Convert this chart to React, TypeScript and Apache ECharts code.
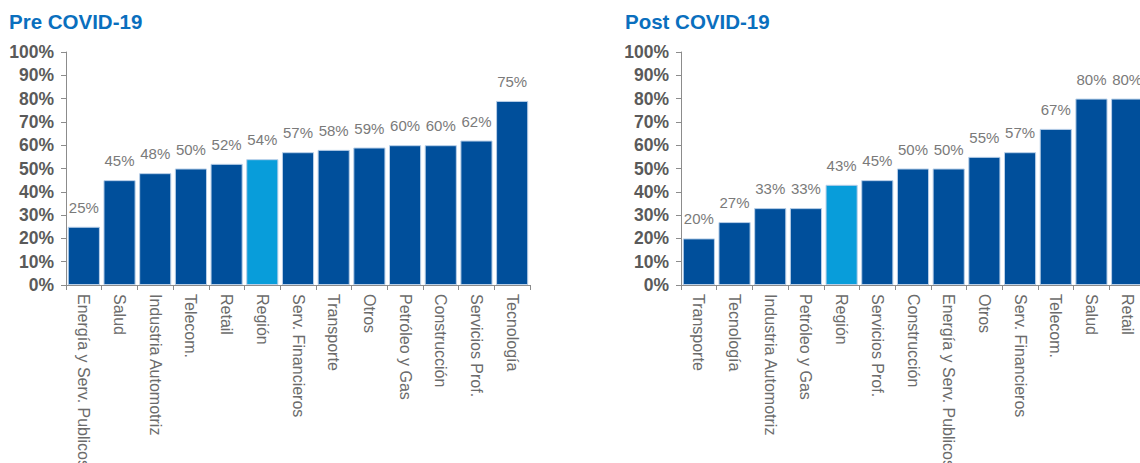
import React, { useEffect, useRef } from "react";
import * as echarts from "echarts";

const preCategories = [
  "Energía y Serv. Publicos",
  "Salud",
  "Industria Automotriz",
  "Telecom.",
  "Retail",
  "Región",
  "Serv. Financieros",
  "Transporte",
  "Otros",
  "Petróleo y Gas",
  "Construcción",
  "Servicios Prof.",
  "Tecnología",
];
const preValues = [25, 45, 48, 50, 52, 54, 57, 58, 59, 60, 60, 62, 79];
const preLabels = ["25%", "45%", "48%", "50%", "52%", "54%", "57%", "58%", "59%", "60%", "60%", "62%", "75%"];

const postCategories = [
  "Transporte",
  "Tecnología",
  "Industria Automotriz",
  "Petróleo y Gas",
  "Región",
  "Servicios Prof.",
  "Construcción",
  "Energía y Serv. Publicos",
  "Otros",
  "Serv. Financieros",
  "Telecom.",
  "Salud",
  "Retail",
];
const postValues = [20, 27, 33, 33, 43, 45, 50, 50, 55, 57, 67, 80, 80];
const postLabels = ["20%", "27%", "33%", "33%", "43%", "45%", "50%", "50%", "55%", "57%", "67%", "80%", "80%"];

const yTicks = [0, 10, 20, 30, 40, 50, 60, 70, 80, 90, 100];
const highlight = "Región";

const DARK = "#004f9b";
const LIGHT = "#089dda";
const FONT = "'Liberation Sans', Arial, Helvetica, sans-serif";

function makeSeries(cats: string[], vals: number[], labels: string[], idx: number) {
  return {
    type: "bar",
    xAxisIndex: idx,
    yAxisIndex: idx,
    barCategoryGap: "10%",
    data: vals.map((v, i) => ({
      value: v,
      itemStyle: { color: cats[i] === highlight ? LIGHT : DARK },
      label: { formatter: labels[i] },
    })),
    itemStyle: { borderColor: "#b8cfe8", borderWidth: 1 },
    label: {
      show: true,
      position: "top",
      distance: 12,
      color: "#7a7a7a",
      fontSize: 15,
      fontFamily: FONT,
    },
  };
}

function makeX(cats: string[], idx: number) {
  return {
    type: "category",
    gridIndex: idx,
    data: cats,
    axisLine: { lineStyle: { color: "#8c8c8c", width: 1 } },
    axisTick: { show: true, length: 5, lineStyle: { color: "#8c8c8c" } },
    axisLabel: {
      rotate: -90,
      interval: 0,
      margin: 9,
      color: "#6b6b6b",
      fontSize: 16,
      fontFamily: FONT,
    },
  };
}

function makeY(idx: number) {
  return {
    type: "value",
    gridIndex: idx,
    min: yTicks[0],
    max: yTicks[yTicks.length - 1],
    interval: 10,
    splitLine: { show: false },
    axisLine: { show: true, lineStyle: { color: "#8c8c8c", width: 1 } },
    axisTick: { show: true, length: 5, lineStyle: { color: "#8c8c8c" } },
    axisLabel: {
      formatter: "{value}%",
      margin: 12,
      color: "#5a5a5a",
      fontSize: 17.5,
      fontWeight: "bold",
      fontFamily: FONT,
    },
  };
}

export default function App() {
  const ref = useRef<HTMLDivElement>(null);
  useEffect(() => {
    if (!ref.current) return;
    const chart = echarts.init(ref.current, undefined, { renderer: "svg" });
    chart.setOption({
      animation: false,
      backgroundColor: "#ffffff",
      title: [
        {
          text: "Pre COVID-19",
          left: 9,
          top: 11,
          padding: 0,
          textStyle: { color: "#0a6fbe", fontSize: 20.5, fontWeight: "bold", fontFamily: FONT },
        },
        {
          text: "Post COVID-19",
          left: 625,
          top: 11,
          padding: 0,
          textStyle: { color: "#0a6fbe", fontSize: 20.5, fontWeight: "bold", fontFamily: FONT },
        },
      ],
      grid: [
        { left: 66, top: 52, width: 464, height: 233, containLabel: false, outerBoundsMode: "none" },
        { left: 681, top: 52, width: 464, height: 233, containLabel: false, outerBoundsMode: "none" },
      ],
      xAxis: [makeX(preCategories, 0), makeX(postCategories, 1)],
      yAxis: [makeY(0), makeY(1)],
      series: [
        makeSeries(preCategories, preValues, preLabels, 0),
        makeSeries(postCategories, postValues, postLabels, 1),
      ],
    });
    return () => chart.dispose();
  }, []);
  return (
    <div
      style={{
        position: "fixed",
        left: 0,
        top: 0,
        width: 1140,
        height: 463,
        overflow: "hidden",
        background: "#fff",
      }}
    >
      <div ref={ref} style={{ width: 1170, height: 463 }} />
    </div>
  );
}
